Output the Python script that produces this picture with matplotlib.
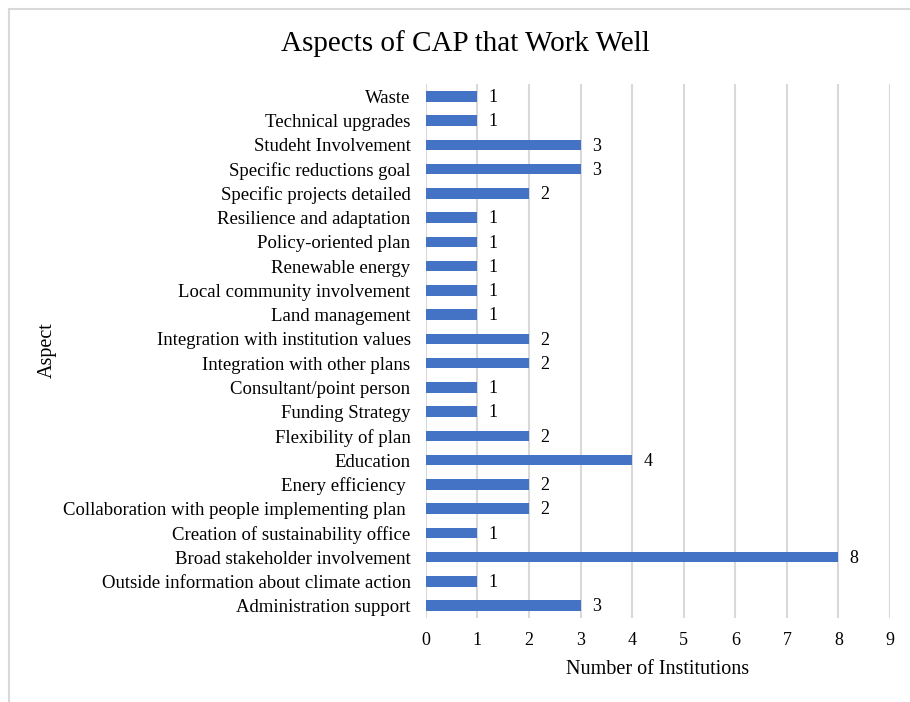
import matplotlib
matplotlib.use("Agg")
import matplotlib.pyplot as plt
from matplotlib.patches import Rectangle

aspects = [
    "Administration support",
    "Outside information about climate action",
    "Broad stakeholder involvement",
    "Creation of sustainability office",
    "Collaboration with people implementing plan ",
    "Enery efficiency ",
    "Education",
    "Flexibility of plan",
    "Funding Strategy",
    "Consultant/point person",
    "Integration with other plans",
    "Integration with institution values",
    "Land management",
    "Local community involvement",
    "Renewable energy",
    "Policy-oriented plan",
    "Resilience and adaptation",
    "Specific projects detailed",
    "Specific reductions goal",
    "Studeht Involvement",
    "Technical upgrades",
    "Waste",
]
counts = [3, 1, 8, 1, 2, 2, 4, 2, 1, 1, 2, 2, 1, 1, 1, 1, 1, 2, 3, 3, 1, 1]
x_ticks = list(range(0, 10))

plt.rcParams["font.family"] = ["Liberation Serif", "DejaVu Serif"]

fig = plt.figure(figsize=(9.1, 7.02), dpi=100)
ax = fig.add_axes([0.468, 0.12, 0.51, 0.76])

# outer chart frame (only top and left edges visible)
fig.patches.append(Rectangle((9 / 910, -0.1), 1.2, 1 - 9 / 702 + 0.1,
                             transform=fig.transFigure, fill=False,
                             edgecolor="#d9d9d9", linewidth=1.5))

y = range(len(aspects))
ax.barh(y, counts, height=0.44, color="#4472C4", zorder=3)
for yi, c in zip(y, counts):
    ax.text(c + 0.22, yi - 0.05, str(c), va="center", ha="left", fontsize=13)

ax.set_yticks(list(y))
ax.set_yticklabels(aspects, fontsize=13.5)
ax.set_xticks(x_ticks)
ax.set_xticklabels([str(t) for t in x_ticks], fontsize=13)
ax.set_xlim(0, 9)
ax.set_ylim(-0.5, len(aspects) - 0.5)
ax.grid(axis="x", color="#d9d9d9", linewidth=1.5, zorder=0)
ax.tick_params(length=0, pad=11)
ax.tick_params(axis="x", pad=10)
for s in ax.spines.values():
    s.set_visible(False)

ax.set_xlabel("Number of Institutions", fontsize=14.5, labelpad=8)
fig.text(47 / 910, 1 - 350 / 702, "Aspect", rotation=90, fontsize=14.5,
         ha="center", va="center")
fig.text(465 / 910, 1 - 44 / 702, "Aspects of CAP that Work Well",
         fontsize=21, ha="center", va="center")

fig.savefig("out.png", dpi=100)
